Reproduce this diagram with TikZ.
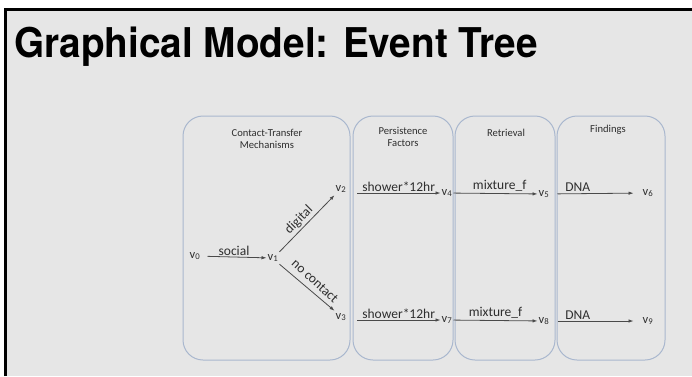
\documentclass[tikz,border=0pt]{standalone}
\usepackage{fontspec}
\setmainfont{Carlito}
\newfontfamily\titlefont{TeX Gyre Heros}
\usetikzlibrary{arrows.meta}
\definecolor{bg}{HTML}{E6E6E6}
\definecolor{boxc}{HTML}{A9B7CE}
\definecolor{ln}{HTML}{4A4A4A}
\definecolor{tx}{HTML}{2E2E2E}
\begin{document}
\begin{tikzpicture}[x=1pt,y=-1pt,
 panel/.style={draw=boxc, line width=1pt, rounded corners=20pt},
 hdr/.style={font=\fontsize{10.6}{12}\selectfont, text=tx, align=center},
 vert/.style={font=\fontsize{12.5}{12}\selectfont, text=tx, inner sep=1pt, minimum size=12pt},
 lab/.style={font=\fontsize{13.5}{14}\selectfont, text=tx, inner sep=1.5pt},
 arr/.style={draw=ln, line width=0.8pt, -{Latex[length=5pt,width=3.5pt]}}]
\useasboundingbox (0,0) rectangle (692,376);
\fill[white] (0,0) rectangle (692,376);
\fill[bg] (4,8) rectangle (692,376);
\draw[black, line width=3pt] (5.5,376) -- (5.5,9.5) -- (692,9.5);
\node[anchor=base west, inner sep=0pt, font=\titlefont\bfseries\fontsize{41}{41}\selectfont] (title) at (14,57) {\scalebox{0.945}[1]{Graphical Model: Event Tree}};
% panels
\draw[panel] (183,116) rectangle (350,360);
\draw[panel] (353,116) rectangle (453,360);
\draw[panel] (455,116) rectangle (555,360);
\draw[panel] (557,116) rectangle (665,360);
% headers
\node[hdr] (h1) at (267,139) {Contact-Transfer\\Mechanisms};
\node[hdr] (h2) at (403,137) {Persistence\\Factors};
\node[hdr] (h3) at (506,133) {Retrieval};
\node[hdr] (h4) at (608,130) {Findings};
% vertices
\node[vert] (v0) at (195,256) {v\textsubscript{0}};
\node[vert] (v1) at (273,258) {v\textsubscript{1}};
\node[vert] (v2) at (341,189) {v\textsubscript{2}};
\node[vert] (v3) at (341,317) {v\textsubscript{3}};
\node[vert] (v4) at (447,193) {v\textsubscript{4}};
\node[vert] (v5) at (544,194) {v\textsubscript{5}};
\node[vert] (v6) at (648,193) {v\textsubscript{6}};
\node[vert] (v7) at (447,320) {v\textsubscript{7}};
\node[vert] (v8) at (544,321) {v\textsubscript{8}};
\node[vert] (v9) at (648,321) {v\textsubscript{9}};
% edges
\draw[arr, shorten <=6pt] (v0) -- node[lab, above] (lsoc) {social} (v1);
\draw[arr] (v1.north east) -- (v2.south west);
\node[lab, rotate=45] (ldig) at (299,220) {digital};
\draw[arr] (v1.south east) -- (v3.north west);
\node[lab, rotate=-43] (lnoc) at (315,281) {no contact};
\draw[arr, shorten <=10pt] (v2.east |- v4) -- node[lab, above, pos=0.55] (ls1) {shower*12hr} (v4);
\draw[arr, shorten <=10pt] (v3.east |- v7) -- node[lab, above, pos=0.55] (ls2) {shower*12hr} (v7);
\draw[arr] (v4) -- node[lab, above, pos=0.55] (lm1) {mixture\_f} (v5);
\draw[arr] (v7) -- node[lab, above, pos=0.5] (lm2) {mixture\_f} (v8);
\draw[arr, shorten <=7pt, shorten >=8pt] (v5) -- node[lab, above, pos=0.3] (ld1) {DNA} (v6);
\draw[arr, shorten <=7pt, shorten >=8pt] (v8) -- node[lab, above, pos=0.3] (ld2) {DNA} (v9);
\end{tikzpicture}
\end{document}
